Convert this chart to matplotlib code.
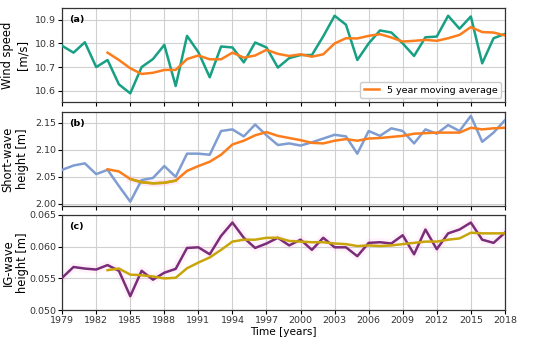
import numpy as np
import matplotlib
matplotlib.use("Agg")
import matplotlib.pyplot as plt

years = np.arange(1979, 2019)
ma_years = np.arange(1983, 2019)

wind = [10.79, 10.761, 10.805, 10.70, 10.73, 10.627, 10.589, 10.70, 10.734, 10.794,
        10.62, 10.832, 10.763, 10.657, 10.787, 10.783, 10.72, 10.804, 10.783, 10.698,
        10.738, 10.751, 10.751, 10.83, 10.917, 10.879, 10.73, 10.80, 10.855, 10.846,
        10.80, 10.747, 10.826, 10.829, 10.917, 10.862, 10.914, 10.716, 10.822, 10.84]
wind_ma = [10.761, 10.73, 10.695, 10.671, 10.676, 10.688, 10.688, 10.734, 10.749, 10.733,
           10.733, 10.761, 10.74, 10.749, 10.773, 10.756, 10.747, 10.754, 10.744, 10.754,
           10.80, 10.822, 10.821, 10.832, 10.839, 10.825, 10.808, 10.811, 10.815, 10.811,
           10.822, 10.836, 10.869, 10.848, 10.846, 10.834]

hs = [2.063, 2.071, 2.075, 2.055, 2.063, 2.033, 2.004, 2.044, 2.048, 2.070,
      2.050, 2.093, 2.093, 2.091, 2.135, 2.138, 2.125, 2.147, 2.127, 2.109,
      2.112, 2.108, 2.114, 2.121, 2.128, 2.125, 2.093, 2.135, 2.126, 2.140,
      2.135, 2.112, 2.138, 2.130, 2.146, 2.135, 2.163, 2.115, 2.132, 2.155]
hs_ma = [2.064, 2.060, 2.046, 2.040, 2.038, 2.039, 2.043, 2.061, 2.070, 2.078,
         2.091, 2.110, 2.117, 2.127, 2.133, 2.126, 2.122, 2.118, 2.113, 2.112,
         2.117, 2.120, 2.117, 2.121, 2.122, 2.124, 2.126, 2.130, 2.131, 2.132,
         2.132, 2.132, 2.141, 2.138, 2.140, 2.141]

hig = [0.0551, 0.0568, 0.05655, 0.0564, 0.0571, 0.0562, 0.0522, 0.0562, 0.0548, 0.0559,
       0.0565, 0.0598, 0.0599, 0.0588, 0.0617, 0.0638, 0.0614, 0.0598, 0.0605, 0.0614,
       0.0602, 0.0611, 0.0595, 0.0614, 0.0599, 0.0599, 0.0585, 0.0606, 0.0607, 0.0605,
       0.0618, 0.0588, 0.0627, 0.0596, 0.0621, 0.0627, 0.0638, 0.0611, 0.0606, 0.0622]
hig_ma = [0.0563, 0.05655, 0.0556, 0.0555, 0.0553, 0.0550, 0.0551, 0.0566, 0.0575, 0.0583,
          0.0595, 0.0608, 0.0611, 0.0611, 0.0614, 0.0614, 0.0609, 0.0608, 0.0607, 0.0607,
          0.0605, 0.0604, 0.0601, 0.0602, 0.0601, 0.0602, 0.0604, 0.0606, 0.0608, 0.0608,
          0.0611, 0.0613, 0.0622, 0.0621, 0.0621, 0.0621]

GREEN = "#17a084"
ORANGE = "#fb7d1c"
BLUE = "#7f9dd0"
PURPLE = "#7a2d78"
GOLD = "#c9a50c"
PINK = "#ff9fe0"

plt.rcParams['font.family'] = ['DejaVu Sans']
plt.rcParams['font.size'] = 6.8

fig = plt.figure(figsize=(5.5, 3.45), dpi=100)
left, width = 0.113, 0.805
ax_a = fig.add_axes([left, 0.704, width, 0.273])
ax_b = fig.add_axes([left, 0.403, width, 0.272])
ax_c = fig.add_axes([left, 0.101, width, 0.276])

# (a) wind speed
ax_a.plot(years, wind, color=GREEN, lw=1.8, zorder=3)
ax_a.plot(ma_years, wind_ma, color=ORANGE, lw=1.8, zorder=4, label="5 year moving average")
ax_a.set_ylim(10.552, 10.95)
ax_a.set_yticks([10.6, 10.7, 10.8, 10.9])
ax_a.set_ylabel("Wind speed\n[m/s]", fontsize=8.3)
ax_a.legend(loc="lower right", fontsize=6.8, handlelength=1.6, framealpha=1,
            edgecolor="#cccccc", borderaxespad=0.4)

# (b) short-wave height
ax_b.plot(years, hs, color=BLUE, lw=1.8, zorder=3)
ax_b.plot(ma_years, hs_ma, color=ORANGE, lw=1.8, zorder=4)
seg = (ma_years >= 1985) & (ma_years <= 1989)
ax_b.plot(ma_years[seg], np.array(hs_ma)[seg], color=PINK, lw=5, alpha=0.2, zorder=2)
ax_b.plot(ma_years[seg], np.array(hs_ma)[seg], color=GOLD, lw=1.8, zorder=5)
ax_b.set_ylim(1.996, 2.17)
ax_b.set_yticks([2.00, 2.05, 2.10, 2.15])
ax_b.set_ylabel("Short-wave\nheight [m]", fontsize=8.3)

# (c) IG-wave height
ax_c.plot(years, hig, color=PINK, lw=6, alpha=0.13, zorder=2)
ax_c.plot(years, hig, color=PURPLE, lw=1.8, zorder=3)
ax_c.plot(ma_years, hig_ma, color=GOLD, lw=1.8, zorder=4)
ax_c.set_ylim(0.050, 0.065)
ax_c.set_yticks([0.050, 0.055, 0.060, 0.065])
ax_c.set_ylabel("IG-wave\nheight [m]", fontsize=8.3)
ax_c.set_xlabel("Time [years]", fontsize=7.6, labelpad=1)

for ax, lab in zip([ax_a, ax_b, ax_c], ["(a)", "(b)", "(c)"]):
    ax.set_xlim(1979, 2018)
    ax.set_xticks(np.arange(1979, 2019, 3))
    ax.grid(True, color="#d0d0d0", lw=0.8)
    ax.tick_params(length=3, width=0.8, pad=1.5, labelsize=6.8, labelcolor="#333333")
    ax.yaxis.set_label_coords(-0.074, 0.5)
    for s in ax.spines.values():
        s.set_color("#333333")
        s.set_linewidth(0.9)
    ax.text(0.015, 0.93, lab, transform=ax.transAxes, fontsize=6.8,
            fontweight="bold", va="top", ha="left")
    if ax is not ax_c:
        ax.tick_params(labelbottom=False)

fig.savefig("out.png", dpi=100)
